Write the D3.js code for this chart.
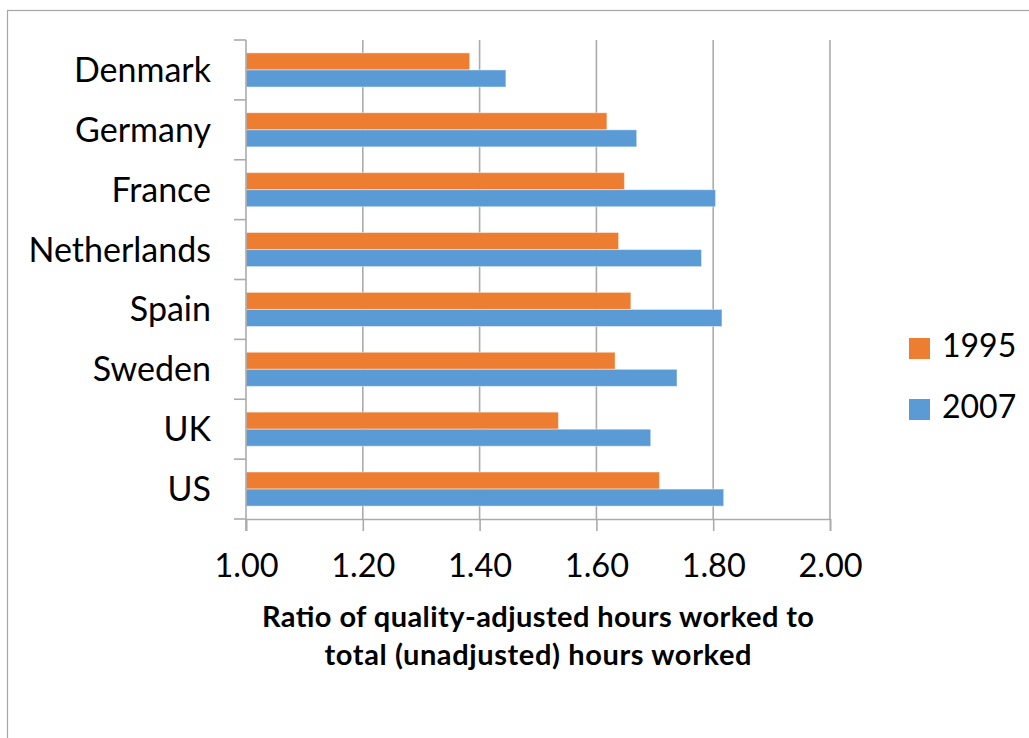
<!DOCTYPE html>
<html>
<head>
<meta charset="utf-8">
<script src="https://cdn.jsdelivr.net/npm/d3@7"></script>
<style>
  html, body { margin: 0; padding: 0; background: #fff; }
  svg { display: block; font-family: Lato, "Open Sans", sans-serif; }
</style>
</head>
<body>
<svg id="chart" width="1029" height="738"></svg>
<script>
// Countries, top to bottom
const countries = ["Denmark", "Germany", "France", "Netherlands", "Spain", "Sweden", "UK", "US"];
// Series names
const seriesNames = ["1995", "2007"];
// Ratio of quality-adjusted to unadjusted hours worked
const values1995 = [1.383, 1.618, 1.648, 1.638, 1.659, 1.632, 1.535, 1.708];
const values2007 = [1.445, 1.669, 1.804, 1.780, 1.815, 1.738, 1.693, 1.818];
// Axis ticks
const xTicks = [1.0, 1.2, 1.4, 1.6, 1.8, 2.0];
const seriesColors = ["#ED7D31", "#5B9BD5"];

const rows = countries.map((c, i) => ({ country: c, vals: [values1995[i], values2007[i]] }));

const svg = d3.select("#chart");
const gridColor = "#ababab";

// Outer chart frame
svg.append("rect")
  .attr("x", 7.5).attr("y", 10.5)
  .attr("width", 1100).attr("height", 800)
  .attr("fill", "none").attr("stroke", "#a6a6a6").attr("stroke-width", 1.2);

const plotLeft = 246, plotRight = 830, plotTop = 40, plotBottom = 519;

const x = d3.scaleLinear().domain([1, 2]).range([plotLeft, plotRight]);
const y = d3.scaleBand().domain(countries).range([plotTop, plotBottom])
  .paddingInner(0.43).paddingOuter(0.215);
const ySub = d3.scaleBand().domain(seriesNames).range([0, y.bandwidth()]);

// Vertical gridlines
svg.append("g").selectAll("line")
  .data(xTicks.slice(1))
  .join("line")
  .attr("x1", d => x(d)).attr("x2", d => x(d))
  .attr("y1", plotTop).attr("y2", plotBottom)
  .attr("stroke", gridColor).attr("stroke-width", 1.6);

// Bars
const groups = svg.append("g").selectAll("g")
  .data(rows)
  .join("g")
  .attr("transform", d => `translate(0,${y(d.country)})`);

groups.selectAll("rect")
  .data(d => d.vals.map((v, k) => ({ v, k })))
  .join("rect")
  .attr("x", x(1))
  .attr("y", d => ySub(seriesNames[d.k]))
  .attr("width", d => x(d.v) - x(1))
  .attr("height", ySub.bandwidth())
  .attr("fill", d => seriesColors[d.k])
  .attr("stroke", "rgba(255,255,255,0.45)")
  .attr("stroke-width", 1);

// Category axis line and ticks at band boundaries
svg.append("line")
  .attr("x1", plotLeft).attr("x2", plotLeft).attr("y1", plotTop).attr("y2", plotBottom + 12)
  .attr("stroke", gridColor).attr("stroke-width", 1.6);
const step = y.step();
const boundaries = d3.range(countries.length + 1).map(i => y(countries[0]) - y.paddingOuter() * step + i * step);
svg.append("g").selectAll("line")
  .data(boundaries)
  .join("line")
  .attr("x1", plotLeft - 12).attr("x2", plotLeft)
  .attr("y1", d => d).attr("y2", d => d)
  .attr("stroke", gridColor).attr("stroke-width", 1.6);

// Value axis
const xAxis = svg.append("g")
  .attr("transform", `translate(0,${plotBottom})`)
  .call(d3.axisBottom(x).tickValues(xTicks).tickFormat(d3.format(".2f")).tickSize(12).tickPadding(12));
xAxis.select(".domain").attr("stroke", gridColor).attr("stroke-width", 1.6);
xAxis.selectAll(".tick line").attr("stroke", gridColor).attr("stroke-width", 1.6);
xAxis.selectAll(".tick text")
  .attr("y", null).attr("dy", null)
  .attr("transform", "translate(0,58)")
  .attr("fill", "#000")
  .style("font-family", "Lato, sans-serif")
  .style("font-size", "32.5px");

// Category labels
svg.append("g").selectAll("text")
  .data(countries)
  .join("text")
  .attr("x", 211)
  .attr("y", d => y(d) + y.bandwidth() / 2 + 12)
  .attr("text-anchor", "end")
  .attr("fill", "#000")
  .style("font-size", "34px")
  .text(d => d);

// Axis title
const titleLines = ["Ratio of quality-adjusted hours worked to", "total (unadjusted) hours worked"];
const titleWidths = [552, 427];
svg.append("g").selectAll("text")
  .data(titleLines)
  .join("text")
  .attr("x", (plotLeft + plotRight) / 2)
  .attr("y", (d, i) => 627 + i * 38)
  .attr("text-anchor", "middle")
  .attr("fill", "#000")
  .attr("textLength", (d, i) => titleWidths[i])
  .attr("lengthAdjust", "spacing")
  .style("font-size", "29px")
  .style("font-weight", "bold")
  .text(d => d);

// Legend
const legend = svg.append("g").selectAll("g")
  .data(seriesNames)
  .join("g")
  .attr("transform", (d, i) => `translate(909,${338 + i * 61})`);
legend.append("rect")
  .attr("width", 21).attr("height", 21)
  .attr("fill", (d, i) => seriesColors[i]);
legend.append("text")
  .attr("x", 33).attr("y", 19)
  .attr("fill", "#000")
  .style("font-size", "32px")
  .text(d => d);
</script>
</body>
</html>
